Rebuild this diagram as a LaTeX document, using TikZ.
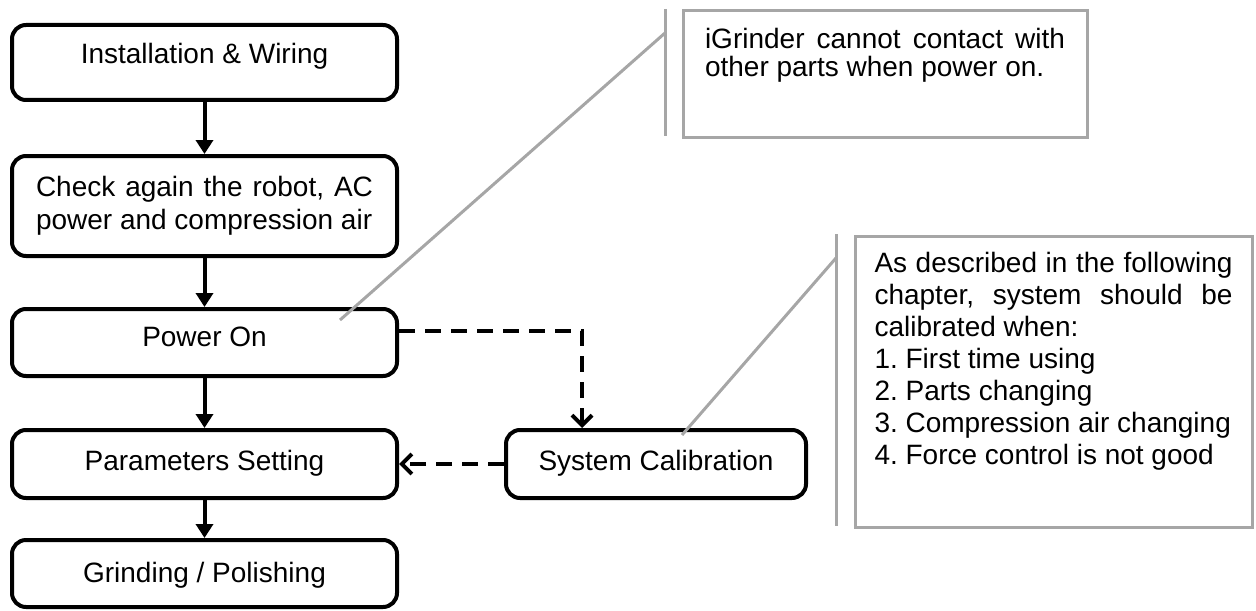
\documentclass[tikz,border=0pt]{standalone}
\usepackage{fontspec}
\setmainfont{Liberation Sans}
\usetikzlibrary{arrows.meta,calc}
\definecolor{notegray}{HTML}{A6A6A6}
\begin{document}
\frenchspacing
\begin{tikzpicture}[x=0.5pt,y=-0.5pt,
  font=\fontsize{14}{16.5}\selectfont,
  flow/.style={draw=black, line width=2pt, rounded corners=7pt, inner sep=0pt,
    minimum width=192.5pt, align=center, text height=10pt},
  arr/.style={line width=2pt, -{Triangle[width=8.5pt,length=7pt]}},
  darr/.style={line width=2pt, dash pattern=on 8pt off 5pt,
    -{Straight Barb[width=10pt,length=5pt]}},
  note/.style={draw=notegray, line width=1.5pt, anchor=north west, align=justify,
    text height=10pt},
  lead/.style={draw=notegray, line width=1.5pt}
]
\useasboundingbox (0,0) rectangle (1256,610);

% flow boxes
\node[flow, minimum height=37.5pt, text depth=9pt] (b1) at (204.5,62.5) {Installation \& Wiring};
\node[flow, minimum height=50pt, text width=168.5pt, align=justify, text height=]
  (b2) at (204.5,206) {Check again the robot, AC\linebreak power and compression air};
\node[flow, minimum height=33.5pt, text depth=6pt] (pon) at (204.5,342.5) {Power On};
\node[flow, minimum height=34pt, text depth=4pt] (param) at (204.5,464) {Parameters Setting};
\node[flow, minimum height=33.5pt, text depth=1.5pt] (grind) at (204.5,573.5) {Grinding / Polishing};
\node[flow, minimum width=150pt, minimum height=34pt, text depth=4pt] (syscal) at (656,464) {System Calibration};

% solid arrows
\draw[arr] (b1) -- (b2);
\draw[arr] (b2) -- (pon);
\draw[arr] (pon) -- (param);
\draw[arr] (param) -- (grind);

% dashed arrows
\coordinate (k) at (582,331);
\draw[darr] (pon.east |- k) -- (k) -- (k |- syscal.north);
\draw[darr] (syscal.west) -- (param.east);

% callout 1
\node[note, text width=180pt, inner xsep=11pt, inner ysep=8.75pt, text depth=35.5pt,
  font=\fontsize{14}{14}\selectfont] (n1) at (681.5,9.5)
  {iGrinder cannot contact with\linebreak other parts when power on.};
\coordinate (n1top) at (665,9);
\coordinate (n1bot) at (665,136);
\coordinate (n1knee) at (665,33);
\coordinate (n1tip) at (340,320);
\draw[lead] (n1top) -- (n1bot);
\draw[lead] (n1knee) -- (n1tip);

% callout 2
\node[note, text width=179pt, inner xsep=9.75pt, inner ysep=8.25pt, text depth=119pt,
  font=\fontsize{14}{16}\selectfont] (n2) at (853.5,234.5)
  {As described in the following\linebreak chapter, system should be\linebreak calibrated when:\\
   1. First time using\\
   2. Parts changing\\
   3. Compression air changing\\
   4. Force control is not good};
\coordinate (n2top) at (836,234);
\coordinate (n2bot) at (836,526);
\coordinate (n2knee) at (836,258);
\coordinate (n2tip) at (682,435);
\draw[lead] (n2top) -- (n2bot);
\draw[lead] (n2knee) -- (n2tip);
\end{tikzpicture}
\end{document}
